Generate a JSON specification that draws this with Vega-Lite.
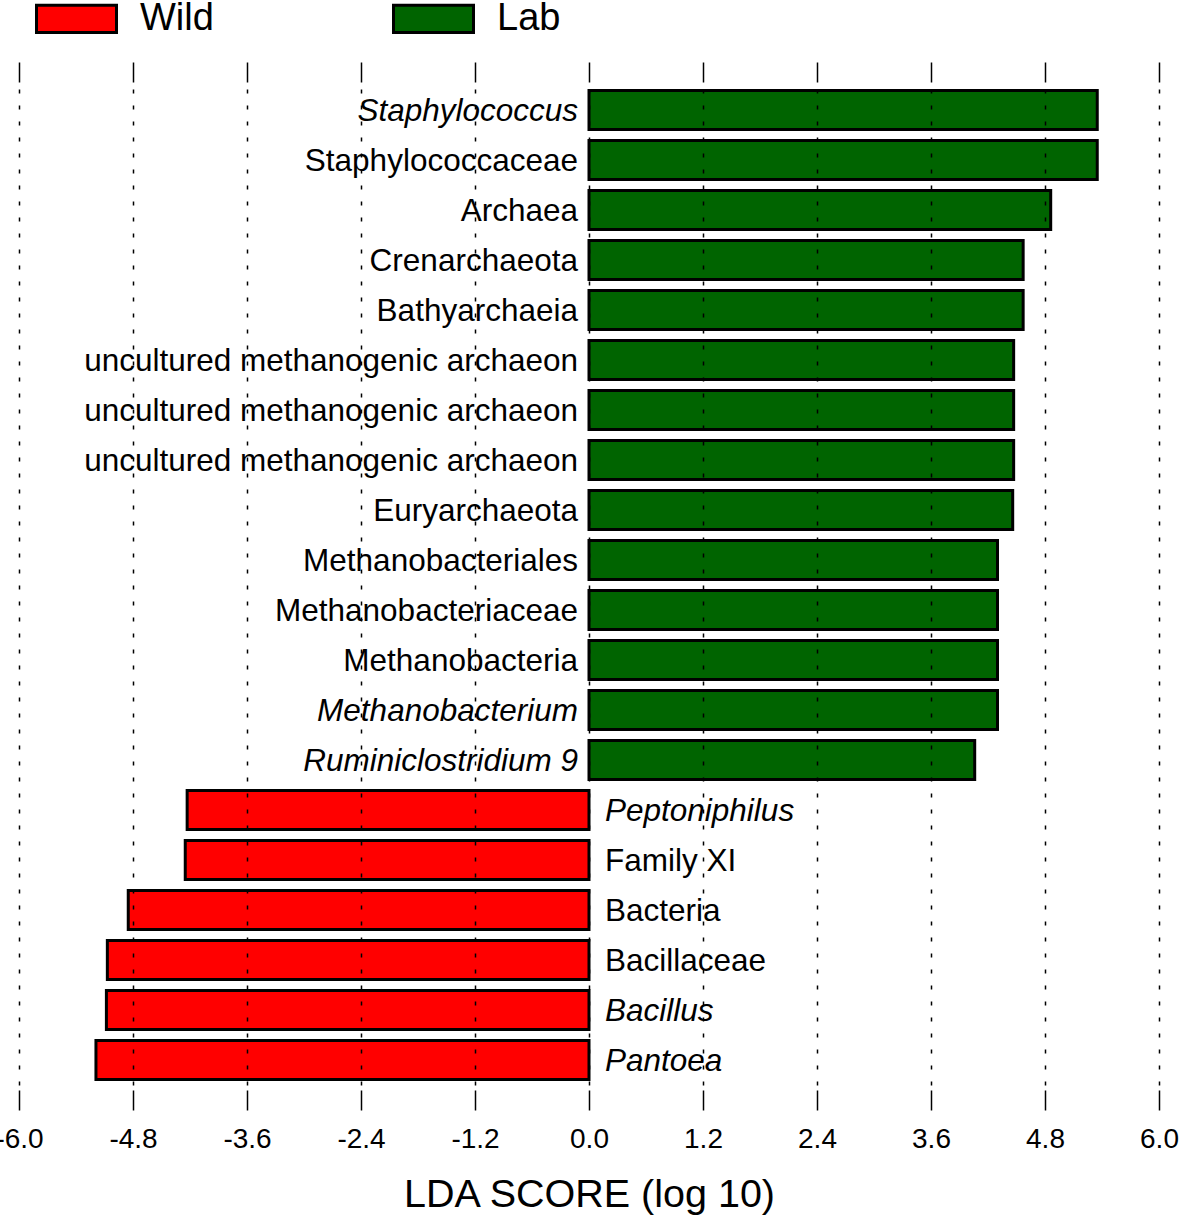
{
  "$schema": "https://vega.github.io/schema/vega-lite/v6.json",
  "width": 1140,
  "height": 1000,
  "autosize": {"type": "none"},
  "padding": {"left": 19, "top": 85, "right": 22, "bottom": 130},
  "background": "white",
  "config": {
    "view": {"stroke": null},
    "font": "Liberation Sans"
  },
  "data": {
    "values": [
      {"id": "r01", "taxon": "Staphylococcus", "rank": "genus", "group": "Lab", "lda": 5.35},
      {"id": "r02", "taxon": "Staphylococcaceae", "rank": "family", "group": "Lab", "lda": 5.35},
      {"id": "r03", "taxon": "Archaea", "rank": "kingdom", "group": "Lab", "lda": 4.86},
      {"id": "r04", "taxon": "Crenarchaeota", "rank": "phylum", "group": "Lab", "lda": 4.57},
      {"id": "r05", "taxon": "Bathyarchaeia", "rank": "class", "group": "Lab", "lda": 4.57},
      {"id": "r06", "taxon": "uncultured methanogenic archaeon", "rank": "species", "group": "Lab", "lda": 4.47},
      {"id": "r07", "taxon": "uncultured methanogenic archaeon", "rank": "species", "group": "Lab", "lda": 4.47},
      {"id": "r08", "taxon": "uncultured methanogenic archaeon", "rank": "species", "group": "Lab", "lda": 4.47},
      {"id": "r09", "taxon": "Euryarchaeota", "rank": "phylum", "group": "Lab", "lda": 4.46},
      {"id": "r10", "taxon": "Methanobacteriales", "rank": "order", "group": "Lab", "lda": 4.30},
      {"id": "r11", "taxon": "Methanobacteriaceae", "rank": "family", "group": "Lab", "lda": 4.30},
      {"id": "r12", "taxon": "Methanobacteria", "rank": "class", "group": "Lab", "lda": 4.30},
      {"id": "r13", "taxon": "Methanobacterium", "rank": "genus", "group": "Lab", "lda": 4.30},
      {"id": "r14", "taxon": "Ruminiclostridium 9", "rank": "genus", "group": "Lab", "lda": 4.06},
      {"id": "r15", "taxon": "Peptoniphilus", "rank": "genus", "group": "Wild", "lda": -4.23},
      {"id": "r16", "taxon": "Family XI", "rank": "family", "group": "Wild", "lda": -4.25},
      {"id": "r17", "taxon": "Bacteria", "rank": "kingdom", "group": "Wild", "lda": -4.85},
      {"id": "r18", "taxon": "Bacillaceae", "rank": "family", "group": "Wild", "lda": -5.07},
      {"id": "r19", "taxon": "Bacillus", "rank": "genus", "group": "Wild", "lda": -5.08},
      {"id": "r20", "taxon": "Pantoea", "rank": "genus", "group": "Wild", "lda": -5.19}
    ]
  },
  "encoding": {
    "y": {"field": "id", "type": "nominal", "sort": null, "axis": null,
          "scale": {"paddingInner": 0.22, "paddingOuter": 0.11}}
  },
  "layer": [
    {
      "mark": {"type": "bar", "stroke": "black", "strokeWidth": 3},
      "encoding": {
        "x": {
          "field": "lda", "type": "quantitative",
          "scale": {"domain": [-6, 6], "nice": false, "zero": false},
          "axis": {
            "orient": "bottom",
            "title": "LDA SCORE (log 10)",
            "values": [-6, -4.8, -3.6, -2.4, -1.2, 0, 1.2, 2.4, 3.6, 4.8, 6],
            "labelExpr": "replace(format(datum.value, '.1f'), '\u2212', '-')",
            "domain": false,
            "offset": 5,
            "ticks": true, "tickSize": 20, "tickColor": "black", "tickWidth": 1.5,
            "labelFontSize": 28, "labelColor": "black", "labelPadding": 15,
            "labelFlush": false, "labelOverlap": false,
            "titleFontSize": 39.5, "titleFontWeight": "normal", "titleColor": "black",
            "titlePadding": 22,
            "grid": true, "gridColor": "black", "gridWidth": 1.5, "gridDash": [4, 12],
            "gridOpacity": 1,
            "zindex": 1
          }
        },
        "fill": {
          "field": "group", "type": "nominal",
          "scale": {"domain": ["Wild", "Lab"], "range": ["#FF0000", "#006400"]},
          "legend": {
            "title": null,
            "orient": "none",
            "direction": "horizontal",
            "legendX": 16,
            "legendY": -108,
            "symbolType": "M-1,-0.34H1V0.34H-1Z",
            "symbolSize": 6400,
            "symbolStrokeColor": "black",
            "symbolStrokeWidth": 3,
            "symbolOpacity": 1,
            "labelFontSize": 38,
            "labelColor": "black",
            "labelOffset": 22,
            "columnPadding": 173,
            "labelLimit": 300
          }
        }
      }
    },
    {
      "mark": {"type": "tick", "opacity": 0},
      "encoding": {
        "x": {
          "datum": 0, "type": "quantitative",
          "axis": {
            "orient": "top",
            "title": null,
            "values": [-6, -4.8, -3.6, -2.4, -1.2, 0, 1.2, 2.4, 3.6, 4.8, 6],
            "domain": false,
            "labels": false,
            "offset": 3,
            "ticks": true, "tickSize": 20, "tickColor": "black", "tickWidth": 1.5,
            "grid": false
          }
        }
      }
    },
    {
      "transform": [{"filter": "datum.lda > 0 && datum.rank != 'genus'"}],
      "mark": {"type": "text", "align": "right", "baseline": "middle", "dx": -11, "dy": 2,
               "fontSize": 31.5, "color": "black"},
      "encoding": {"x": {"datum": 0, "type": "quantitative", "axis": null}, "text": {"field": "taxon"}}
    },
    {
      "transform": [{"filter": "datum.lda > 0 && datum.rank == 'genus'"}],
      "mark": {"type": "text", "align": "right", "baseline": "middle", "dx": -11, "dy": 2,
               "fontSize": 31.5, "fontStyle": "italic", "color": "black"},
      "encoding": {"x": {"datum": 0, "type": "quantitative", "axis": null}, "text": {"field": "taxon"}}
    },
    {
      "transform": [{"filter": "datum.lda < 0 && datum.rank != 'genus'"}],
      "mark": {"type": "text", "align": "left", "baseline": "middle", "dx": 16, "dy": 2,
               "fontSize": 31.5, "color": "black"},
      "encoding": {"x": {"datum": 0, "type": "quantitative", "axis": null}, "text": {"field": "taxon"}}
    },
    {
      "transform": [{"filter": "datum.lda < 0 && datum.rank == 'genus'"}],
      "mark": {"type": "text", "align": "left", "baseline": "middle", "dx": 16, "dy": 2,
               "fontSize": 31.5, "fontStyle": "italic", "color": "black"},
      "encoding": {"x": {"datum": 0, "type": "quantitative", "axis": null}, "text": {"field": "taxon"}}
    }
  ]
}
